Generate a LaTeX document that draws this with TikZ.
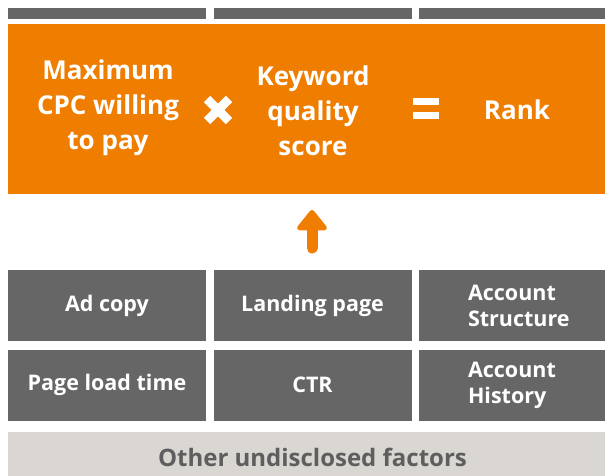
\documentclass[tikz,border=0pt]{standalone}
\usepackage{fontspec}
\setmainfont{Open Sans}
\usetikzlibrary{arrows.meta}
\definecolor{rankorange}{HTML}{EF7D00}
\definecolor{factorgray}{HTML}{666666}
\definecolor{othergray}{HTML}{DAD6D1}
\definecolor{othertext}{HTML}{5E5E5E}

\begin{document}
\begin{tikzpicture}[x=1pt,y=-1pt]
\tikzstyle{factor}=[rectangle, fill=factorgray, text=white, font=\fontsize{21.5}{26}\selectfont\bfseries, minimum width=198pt, minimum height=71pt, inner sep=0pt]
\tikzstyle{strip}=[rectangle, fill=factorgray, minimum width=198pt, minimum height=11pt, inner sep=0pt]
\tikzstyle{term}=[text=white, font=\fontsize{26}{35}\selectfont\bfseries, align=center]
\tikzstyle{connect}=[line width=11pt, line cap=round, draw=rankorange, -{Triangle[length=22pt, width=34pt, round, line width=5pt]}]
\useasboundingbox (0,0) rectangle (605,476);
\clip (0,0) rectangle (605,476);
  % cut-off row above
  \node[strip] (s1) at (107,13.5) {};
  \node[strip] (s2) at (312.5,13.5) {};
  \node[strip] (s3) at (518,13.5) {};
  % formula
  \node[rectangle, fill=rankorange, minimum width=609pt, minimum height=170pt, inner sep=0pt] (formula) at (312.5,109) {};
  \node[term] (cpc) at (108,108) {Maximum\\CPC willing\\to pay};
  \node[term] (quality) at (313,111) {Keyword\\quality\\score};
  \node[term] (rank) at (517,110) {Rank};
  \node (times) at (218,110) {};
  \draw[white, line width=9pt] ([shift={(-11,-11)}]times.center) -- ([shift={(11,11)}]times.center)
        ([shift={(-11,11)}]times.center) -- ([shift={(11,-11)}]times.center);
  \node[fill=white, minimum width=26pt, minimum height=6.5pt, inner sep=0pt] (eqtop) at (426,101.5) {};
  \node[fill=white, minimum width=26pt, minimum height=6.5pt, inner sep=0pt] (eqbot) at (426,115.5) {};
  % factors
  \node[factor] (adcopy) at (107,305.5) {Ad copy};
  \node[factor] (landing) at (312.5,305.5) {Landing page};
  \node[factor, align=left, text width=100pt] (structure) at (518,305.5) {Account\\Structure};
  \node[factor] (loadtime) at (107,385) {Page load time};
  \node[factor] (ctr) at (312.5,385) {CTR};
  \node[factor, align=left, text width=100pt] (history) at (518,385) {Account\\History};
  \node[rectangle, fill=othergray, text=othertext, font=\fontsize{24}{26}\selectfont\bfseries, minimum width=609pt, minimum height=50pt, inner sep=0pt] (other) at (312.5,457) {Other undisclosed factors};
  \coordinate (arrowtail) at (312,248);
  \coordinate (arrowtip) at (312,210);
  \draw[connect] (arrowtail) -- (arrowtip);
\end{tikzpicture}
\end{document}
